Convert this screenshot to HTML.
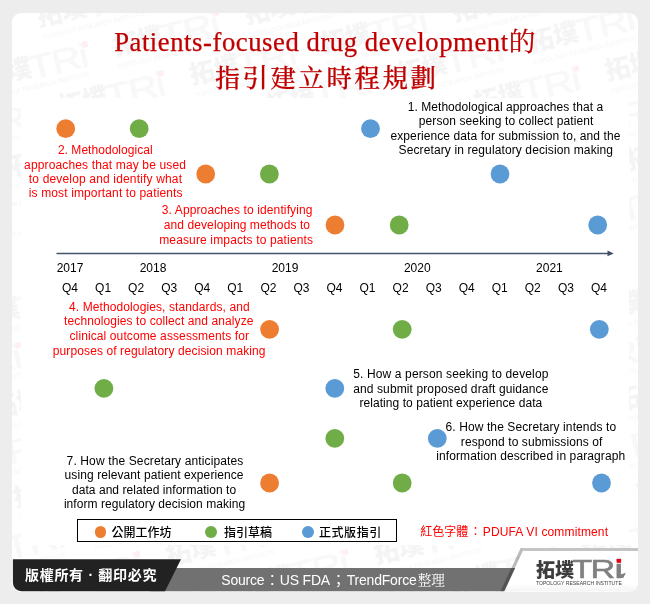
<!DOCTYPE html>
<html lang="zh-Hant">
<head>
<meta charset="utf-8">
<title>Patients-focused drug development的指引建立時程規劃</title>
<style>
html,body{margin:0;padding:0}
body{width:650px;height:604px;background:#ededed;position:relative;overflow:hidden;font-family:"Liberation Sans","Noto Sans CJK TC",sans-serif}
.panel{position:absolute;left:12px;top:13px;width:626px;height:579px;background:#fff;border-radius:9px;overflow:hidden}
.wmwrap{position:absolute;left:-12px;top:-13px;width:650px;height:604px;transform:rotate(-13.5deg);transform-origin:0 0;opacity:0.062}
.wm{position:absolute;width:118px;height:38px;white-space:nowrap;line-height:1}
.wm b{position:absolute;left:0;top:-5px;font:900 25px/34px "Liberation Sans","Noto Sans CJK TC",sans-serif;color:#3d3d3d}
.wm i{position:absolute;left:48px;top:-7.5px;font:normal 400 33.7px/40px "Liberation Sans",sans-serif;color:#808080;transform:scaleX(1.22);transform-origin:0 0;-webkit-text-stroke:0.7px #808080;letter-spacing:-1.2px}
.wm u{position:absolute;left:104.5px;top:0px;width:6px;height:5.4px;background:#e60012}
.wm s{position:absolute;left:0;top:28px;font:400 7.5px/10px "Liberation Sans",sans-serif;color:#3d3d3d;text-decoration:none;transform:scaleX(0.84);transform-origin:0 0}
.chartbg{position:absolute;left:20.5px;top:97.7px;width:608px;height:447.7px;background:#fff}
.title{position:absolute;left:0;width:650px;text-align:center;color:#c00000;font-family:"Liberation Serif","Noto Serif CJK SC",serif;font-size:26.67px;line-height:30px;white-space:nowrap;-webkit-text-stroke:0.25px #c00000}
.t1{top:27px;letter-spacing:0.56px}
.t2{top:63.3px;left:1.6px;font-size:25.4px;letter-spacing:2.6px;font-weight:500}
.chart{position:absolute;left:0;top:0}
.legend{position:absolute;left:76.9px;top:519.2px;width:317.8px;height:21.3px;border:1.2px solid #000;background:#fff;box-sizing:content-box}
.legend .d{position:absolute;top:6.1px;width:11.8px;height:11.8px;border-radius:50%}
.legend .l{position:absolute;top:4.7px;font:500 12px/16px "Liberation Sans","Noto Sans CJK TC",sans-serif;color:#000;white-space:nowrap}
.note{position:absolute;left:420.2px;top:524px;font:400 12px/16px "Liberation Sans","Noto Sans CJK TC",sans-serif;color:#ff0000;white-space:nowrap}
.note .p{display:inline-block;width:14.6px;text-align:center}
.note .e{letter-spacing:0.14px}
.footer{position:absolute;left:0;top:0;width:650px;height:604px}
.copy{position:absolute;left:25px;top:565px;color:#fff;font:700 14px/20px "Liberation Sans","Noto Sans CJK TC",sans-serif;letter-spacing:0.7px;white-space:nowrap}
.src{position:absolute;left:221.3px;top:568.7px;color:#fff;font:400 14px/20px "Liberation Sans","Noto Sans CJK TC",sans-serif;white-space:nowrap;letter-spacing:-0.2px}
.src .s{font-family:"Noto Serif CJK SC",serif;font-size:13.6px;margin-left:1.2px;letter-spacing:0}
.src .p{display:inline-block;text-align:center}
</style>
</head>
<body>
<div class="panel">
<div class="wmwrap">
<div class="wm" style="left:-35.6px;top:-32.2px"><b>拓墣</b><i>TRi</i><u></u><s>TOPOLOGY RESEARCH INSTITUTE</s></div>
<div class="wm" style="left:-103.1px;top:14.0px"><b>拓墣</b><i>TRi</i><u></u><s>TOPOLOGY RESEARCH INSTITUTE</s></div>
<div class="wm" style="left:31.9px;top:14.0px"><b>拓墣</b><i>TRi</i><u></u><s>TOPOLOGY RESEARCH INSTITUTE</s></div>
<div class="wm" style="left:166.9px;top:14.0px"><b>拓墣</b><i>TRi</i><u></u><s>TOPOLOGY RESEARCH INSTITUTE</s></div>
<div class="wm" style="left:-35.6px;top:60.2px"><b>拓墣</b><i>TRi</i><u></u><s>TOPOLOGY RESEARCH INSTITUTE</s></div>
<div class="wm" style="left:99.4px;top:60.2px"><b>拓墣</b><i>TRi</i><u></u><s>TOPOLOGY RESEARCH INSTITUTE</s></div>
<div class="wm" style="left:234.4px;top:60.2px"><b>拓墣</b><i>TRi</i><u></u><s>TOPOLOGY RESEARCH INSTITUTE</s></div>
<div class="wm" style="left:-103.1px;top:106.4px"><b>拓墣</b><i>TRi</i><u></u><s>TOPOLOGY RESEARCH INSTITUTE</s></div>
<div class="wm" style="left:31.9px;top:106.4px"><b>拓墣</b><i>TRi</i><u></u><s>TOPOLOGY RESEARCH INSTITUTE</s></div>
<div class="wm" style="left:166.9px;top:106.4px"><b>拓墣</b><i>TRi</i><u></u><s>TOPOLOGY RESEARCH INSTITUTE</s></div>
<div class="wm" style="left:301.9px;top:106.4px"><b>拓墣</b><i>TRi</i><u></u><s>TOPOLOGY RESEARCH INSTITUTE</s></div>
<div class="wm" style="left:436.9px;top:106.4px"><b>拓墣</b><i>TRi</i><u></u><s>TOPOLOGY RESEARCH INSTITUTE</s></div>
<div class="wm" style="left:-35.6px;top:152.6px"><b>拓墣</b><i>TRi</i><u></u><s>TOPOLOGY RESEARCH INSTITUTE</s></div>
<div class="wm" style="left:99.4px;top:152.6px"><b>拓墣</b><i>TRi</i><u></u><s>TOPOLOGY RESEARCH INSTITUTE</s></div>
<div class="wm" style="left:234.4px;top:152.6px"><b>拓墣</b><i>TRi</i><u></u><s>TOPOLOGY RESEARCH INSTITUTE</s></div>
<div class="wm" style="left:369.4px;top:152.6px"><b>拓墣</b><i>TRi</i><u></u><s>TOPOLOGY RESEARCH INSTITUTE</s></div>
<div class="wm" style="left:504.4px;top:152.6px"><b>拓墣</b><i>TRi</i><u></u><s>TOPOLOGY RESEARCH INSTITUTE</s></div>
<div class="wm" style="left:-103.1px;top:198.8px"><b>拓墣</b><i>TRi</i><u></u><s>TOPOLOGY RESEARCH INSTITUTE</s></div>
<div class="wm" style="left:301.9px;top:198.8px"><b>拓墣</b><i>TRi</i><u></u><s>TOPOLOGY RESEARCH INSTITUTE</s></div>
<div class="wm" style="left:436.9px;top:198.8px"><b>拓墣</b><i>TRi</i><u></u><s>TOPOLOGY RESEARCH INSTITUTE</s></div>
<div class="wm" style="left:571.9px;top:198.8px"><b>拓墣</b><i>TRi</i><u></u><s>TOPOLOGY RESEARCH INSTITUTE</s></div>
<div class="wm" style="left:-170.6px;top:245.0px"><b>拓墣</b><i>TRi</i><u></u><s>TOPOLOGY RESEARCH INSTITUTE</s></div>
<div class="wm" style="left:504.4px;top:245.0px"><b>拓墣</b><i>TRi</i><u></u><s>TOPOLOGY RESEARCH INSTITUTE</s></div>
<div class="wm" style="left:-103.1px;top:291.2px"><b>拓墣</b><i>TRi</i><u></u><s>TOPOLOGY RESEARCH INSTITUTE</s></div>
<div class="wm" style="left:571.9px;top:291.2px"><b>拓墣</b><i>TRi</i><u></u><s>TOPOLOGY RESEARCH INSTITUTE</s></div>
<div class="wm" style="left:-170.6px;top:337.4px"><b>拓墣</b><i>TRi</i><u></u><s>TOPOLOGY RESEARCH INSTITUTE</s></div>
<div class="wm" style="left:504.4px;top:337.4px"><b>拓墣</b><i>TRi</i><u></u><s>TOPOLOGY RESEARCH INSTITUTE</s></div>
<div class="wm" style="left:-103.1px;top:383.6px"><b>拓墣</b><i>TRi</i><u></u><s>TOPOLOGY RESEARCH INSTITUTE</s></div>
<div class="wm" style="left:436.9px;top:383.6px"><b>拓墣</b><i>TRi</i><u></u><s>TOPOLOGY RESEARCH INSTITUTE</s></div>
<div class="wm" style="left:-170.6px;top:429.8px"><b>拓墣</b><i>TRi</i><u></u><s>TOPOLOGY RESEARCH INSTITUTE</s></div>
<div class="wm" style="left:504.4px;top:429.8px"><b>拓墣</b><i>TRi</i><u></u><s>TOPOLOGY RESEARCH INSTITUTE</s></div>
<div class="wm" style="left:-103.1px;top:476.0px"><b>拓墣</b><i>TRi</i><u></u><s>TOPOLOGY RESEARCH INSTITUTE</s></div>
<div class="wm" style="left:436.9px;top:476.0px"><b>拓墣</b><i>TRi</i><u></u><s>TOPOLOGY RESEARCH INSTITUTE</s></div>
<div class="wm" style="left:-170.6px;top:522.2px"><b>拓墣</b><i>TRi</i><u></u><s>TOPOLOGY RESEARCH INSTITUTE</s></div>
<div class="wm" style="left:-35.6px;top:522.2px"><b>拓墣</b><i>TRi</i><u></u><s>TOPOLOGY RESEARCH INSTITUTE</s></div>
<div class="wm" style="left:504.4px;top:522.2px"><b>拓墣</b><i>TRi</i><u></u><s>TOPOLOGY RESEARCH INSTITUTE</s></div>
<div class="wm" style="left:-238.1px;top:568.4px"><b>拓墣</b><i>TRi</i><u></u><s>TOPOLOGY RESEARCH INSTITUTE</s></div>
<div class="wm" style="left:-103.1px;top:568.4px"><b>拓墣</b><i>TRi</i><u></u><s>TOPOLOGY RESEARCH INSTITUTE</s></div>
<div class="wm" style="left:31.9px;top:568.4px"><b>拓墣</b><i>TRi</i><u></u><s>TOPOLOGY RESEARCH INSTITUTE</s></div>
<div class="wm" style="left:166.9px;top:568.4px"><b>拓墣</b><i>TRi</i><u></u><s>TOPOLOGY RESEARCH INSTITUTE</s></div>
<div class="wm" style="left:436.9px;top:568.4px"><b>拓墣</b><i>TRi</i><u></u><s>TOPOLOGY RESEARCH INSTITUTE</s></div>
<div class="wm" style="left:-35.6px;top:614.6px"><b>拓墣</b><i>TRi</i><u></u><s>TOPOLOGY RESEARCH INSTITUTE</s></div>
<div class="wm" style="left:99.4px;top:614.6px"><b>拓墣</b><i>TRi</i><u></u><s>TOPOLOGY RESEARCH INSTITUTE</s></div>
<div class="wm" style="left:234.4px;top:614.6px"><b>拓墣</b><i>TRi</i><u></u><s>TOPOLOGY RESEARCH INSTITUTE</s></div>
<div class="wm" style="left:369.4px;top:614.6px"><b>拓墣</b><i>TRi</i><u></u><s>TOPOLOGY RESEARCH INSTITUTE</s></div>
<div class="wm" style="left:504.4px;top:614.6px"><b>拓墣</b><i>TRi</i><u></u><s>TOPOLOGY RESEARCH INSTITUTE</s></div>
<div class="wm" style="left:166.9px;top:660.8px"><b>拓墣</b><i>TRi</i><u></u><s>TOPOLOGY RESEARCH INSTITUTE</s></div>
<div class="wm" style="left:301.9px;top:660.8px"><b>拓墣</b><i>TRi</i><u></u><s>TOPOLOGY RESEARCH INSTITUTE</s></div>
<div class="wm" style="left:436.9px;top:660.8px"><b>拓墣</b><i>TRi</i><u></u><s>TOPOLOGY RESEARCH INSTITUTE</s></div>
<div class="wm" style="left:369.4px;top:707.0px"><b>拓墣</b><i>TRi</i><u></u><s>TOPOLOGY RESEARCH INSTITUTE</s></div>
</div>
</div>
<div class="chartbg"></div>
<div class="title t1">Patients-focused drug development的</div>
<div class="title t2">指引建立時程規劃</div>
<svg class="chart" width="650" height="604" viewBox="0 0 650 604" font-family="'Liberation Sans', Arial, sans-serif" font-size="12">
<line x1="56.5" y1="253.4" x2="609" y2="253.4" stroke="#44546a" stroke-width="1.5"/>
<path d="M613.7 253.4 L607.5 250.5 L607.5 256.3 Z" fill="#3f4e66"/>
<circle cx="65.7" cy="128.7" r="9.4" fill="#ed7d31"/>
<circle cx="139.2" cy="128.7" r="9.4" fill="#70ad47"/>
<circle cx="370.5" cy="128.7" r="9.4" fill="#5b9bd5"/>
<circle cx="205.7" cy="174" r="9.4" fill="#ed7d31"/>
<circle cx="269.4" cy="174" r="9.4" fill="#70ad47"/>
<circle cx="500" cy="174" r="9.4" fill="#5b9bd5"/>
<circle cx="335" cy="225" r="9.4" fill="#ed7d31"/>
<circle cx="399.2" cy="225" r="9.4" fill="#70ad47"/>
<circle cx="597.7" cy="225" r="9.4" fill="#5b9bd5"/>
<circle cx="269.6" cy="329.3" r="9.4" fill="#ed7d31"/>
<circle cx="402.2" cy="329.3" r="9.4" fill="#70ad47"/>
<circle cx="599.3" cy="329.3" r="9.4" fill="#5b9bd5"/>
<circle cx="103.9" cy="388.4" r="9.4" fill="#70ad47"/>
<circle cx="334.8" cy="388.4" r="9.4" fill="#5b9bd5"/>
<circle cx="334.8" cy="438.4" r="9.4" fill="#70ad47"/>
<circle cx="437.3" cy="438.4" r="9.4" fill="#5b9bd5"/>
<circle cx="269.6" cy="483" r="9.4" fill="#ed7d31"/>
<circle cx="402.2" cy="483" r="9.4" fill="#70ad47"/>
<circle cx="601.5" cy="483" r="9.4" fill="#5b9bd5"/>
<text x="407.7" y="111" fill="#000000" textLength="195.4" lengthAdjust="spacing">1. Methodological approaches that a</text>
<text x="418.8" y="125.4" fill="#000000" textLength="174.5" lengthAdjust="spacing">person seeking to collect patient</text>
<text x="390.5" y="139.9" fill="#000000" textLength="229.9" lengthAdjust="spacing">experience data for submission to, and the</text>
<text x="398.6" y="154.2" fill="#000000" textLength="214.4" lengthAdjust="spacing">Secretary in regulatory decision making</text>
<text x="57.9" y="153.8" fill="#ff0000" textLength="94.7" lengthAdjust="spacing">2. Methodological</text>
<text x="24.1" y="168.5" fill="#ff0000" textLength="161.8" lengthAdjust="spacing">approaches that may be used</text>
<text x="28.8" y="182.9" fill="#ff0000" textLength="153.2" lengthAdjust="spacing">to develop and identify what</text>
<text x="28.8" y="197.4" fill="#ff0000" textLength="153.7" lengthAdjust="spacing">is most important to patients</text>
<text x="161.7" y="214" fill="#ff0000" textLength="150.8" lengthAdjust="spacing">3. Approaches to identifying</text>
<text x="163.8" y="228.8" fill="#ff0000" textLength="146.2" lengthAdjust="spacing">and developing methods to</text>
<text x="159.2" y="243.6" fill="#ff0000" textLength="153.8" lengthAdjust="spacing">measure impacts to patients</text>
<text x="69" y="310.9" fill="#ff0000" textLength="180.7" lengthAdjust="spacing">4. Methodologies, standards, and</text>
<text x="64.1" y="325.2" fill="#ff0000" textLength="189.3" lengthAdjust="spacing">technologies to collect and analyze</text>
<text x="69.5" y="340" fill="#ff0000" textLength="179.5" lengthAdjust="spacing">clinical outcome assessments for</text>
<text x="52.8" y="354.5" fill="#ff0000" textLength="212.7" lengthAdjust="spacing">purposes of regulatory decision making</text>
<text x="353.2" y="377.8" fill="#000000" textLength="195.2" lengthAdjust="spacing">5. How a person seeking to develop</text>
<text x="353.2" y="392.6" fill="#000000" textLength="195.2" lengthAdjust="spacing">and submit proposed draft guidance</text>
<text x="359.4" y="406.9" fill="#000000" textLength="182.9" lengthAdjust="spacing">relating to patient experience data</text>
<text x="445.5" y="431.4" fill="#000000" textLength="170.6" lengthAdjust="spacing">6. How the Secretary intends to</text>
<text x="460.8" y="445.9" fill="#000000" textLength="141.5" lengthAdjust="spacing">respond to submissions of</text>
<text x="436.2" y="460.2" fill="#000000" textLength="189.0" lengthAdjust="spacing">information described in paragraph</text>
<text x="66.6" y="464.6" fill="#000000" textLength="176.7" lengthAdjust="spacing">7. How the Secretary anticipates</text>
<text x="64.6" y="479.4" fill="#000000" textLength="178.9" lengthAdjust="spacing">using relevant patient experience</text>
<text x="72" y="493.7" fill="#000000" textLength="164.1" lengthAdjust="spacing">data and related information to</text>
<text x="63.9" y="508.2" fill="#000000" textLength="181.3" lengthAdjust="spacing">inform regulatory decision making</text>
<text x="70" y="272" text-anchor="middle" fill="#000">2017</text>
<text x="153" y="272" text-anchor="middle" fill="#000">2018</text>
<text x="285" y="272" text-anchor="middle" fill="#000">2019</text>
<text x="417.3" y="272" text-anchor="middle" fill="#000">2020</text>
<text x="549.4" y="272" text-anchor="middle" fill="#000">2021</text>
<text x="70.0" y="291.6" text-anchor="middle" fill="#000">Q4</text>
<text x="103.1" y="291.6" text-anchor="middle" fill="#000">Q1</text>
<text x="136.1" y="291.6" text-anchor="middle" fill="#000">Q2</text>
<text x="169.2" y="291.6" text-anchor="middle" fill="#000">Q3</text>
<text x="202.2" y="291.6" text-anchor="middle" fill="#000">Q4</text>
<text x="235.3" y="291.6" text-anchor="middle" fill="#000">Q1</text>
<text x="268.4" y="291.6" text-anchor="middle" fill="#000">Q2</text>
<text x="301.4" y="291.6" text-anchor="middle" fill="#000">Q3</text>
<text x="334.5" y="291.6" text-anchor="middle" fill="#000">Q4</text>
<text x="367.5" y="291.6" text-anchor="middle" fill="#000">Q1</text>
<text x="400.6" y="291.6" text-anchor="middle" fill="#000">Q2</text>
<text x="433.7" y="291.6" text-anchor="middle" fill="#000">Q3</text>
<text x="466.7" y="291.6" text-anchor="middle" fill="#000">Q4</text>
<text x="499.8" y="291.6" text-anchor="middle" fill="#000">Q1</text>
<text x="532.8" y="291.6" text-anchor="middle" fill="#000">Q2</text>
<text x="565.9" y="291.6" text-anchor="middle" fill="#000">Q3</text>
<text x="599.0" y="291.6" text-anchor="middle" fill="#000">Q4</text>
</svg>
<div class="legend">
<span class="d" style="left:16.7px;background:#ed7d31"></span><span class="l" style="left:33.6px">公開工作坊</span>
<span class="d" style="left:127.4px;background:#70ad47"></span><span class="l" style="left:146.2px">指引草稿</span>
<span class="d" style="left:224.5px;background:#5b9bd5"></span><span class="l" style="left:241px;letter-spacing:0.6px">正式版指引</span>
</div>
<div class="note">紅色字體<span class="p">：</span><span class="e">PDUFA VI commitment</span></div>
<svg class="footer" width="650" height="604" viewBox="0 0 650 604">
<defs>
<clipPath id="pc"><rect x="12.9" y="13" width="625.1" height="578.3" rx="8.5" ry="8.5"/></clipPath>
<linearGradient id="lg" x1="0" y1="0" x2="0" y2="1"><stop offset="0" stop-color="#ffffff"/><stop offset="0.8" stop-color="#ffffff"/><stop offset="1" stop-color="#f3f3f3"/></linearGradient>
</defs>
<g clip-path="url(#pc)">
<polygon points="522.5,551 640,551 640,592 503.5,592" fill="url(#lg)"/>
<polygon points="150,568 515.2,568 504,592 150,592" fill="#717171"/>
<polygon points="12,559.2 181,559.2 164.6,592 12,592" fill="#222222"/>
<polygon points="520.7,548 524.2,548 503.7,592 500.2,592" fill="#000" fill-opacity="0.27"/>
<rect x="523.3" y="548" width="118" height="3" fill="#c4c4c4"/>
<g font-family="'Liberation Sans','Noto Sans CJK TC',sans-serif">
<text x="536" y="576.7" font-size="19.5" font-weight="900" fill="#3d3d3d" textLength="38" lengthAdjust="spacingAndGlyphs">拓墣</text>
<g font-size="26.3" fill="#808080" stroke="#808080" stroke-width="0.55">
<text transform="translate(572.3,577.8) scale(1.24,1)">T</text>
<text transform="translate(590.4,577.8) scale(1.3,1)">R</text>
<text transform="translate(614.3,577.8) scale(1.55,1)">i</text>
<polygon points="620.6,578 620.6,574.6 626,572.7 623.2,578" stroke="none"/>
</g>
<rect x="616.7" y="559" width="4.4" height="3.8" fill="#e60012"/>
<text x="536" y="585.3" font-size="5.9" fill="#3d3d3d" textLength="85.8" lengthAdjust="spacingAndGlyphs">TOPOLOGY RESEARCH INSTITUTE</text>
</g>
</g>
</svg>
<div class="copy">版權所有 · 翻印必究</div>
<div class="src">Source<span class="p" style="width:15.4px">：</span>US FDA<span class="p" style="width:16.7px">；</span>TrendForce<span class="s">整理</span></div>
</body>
</html>
